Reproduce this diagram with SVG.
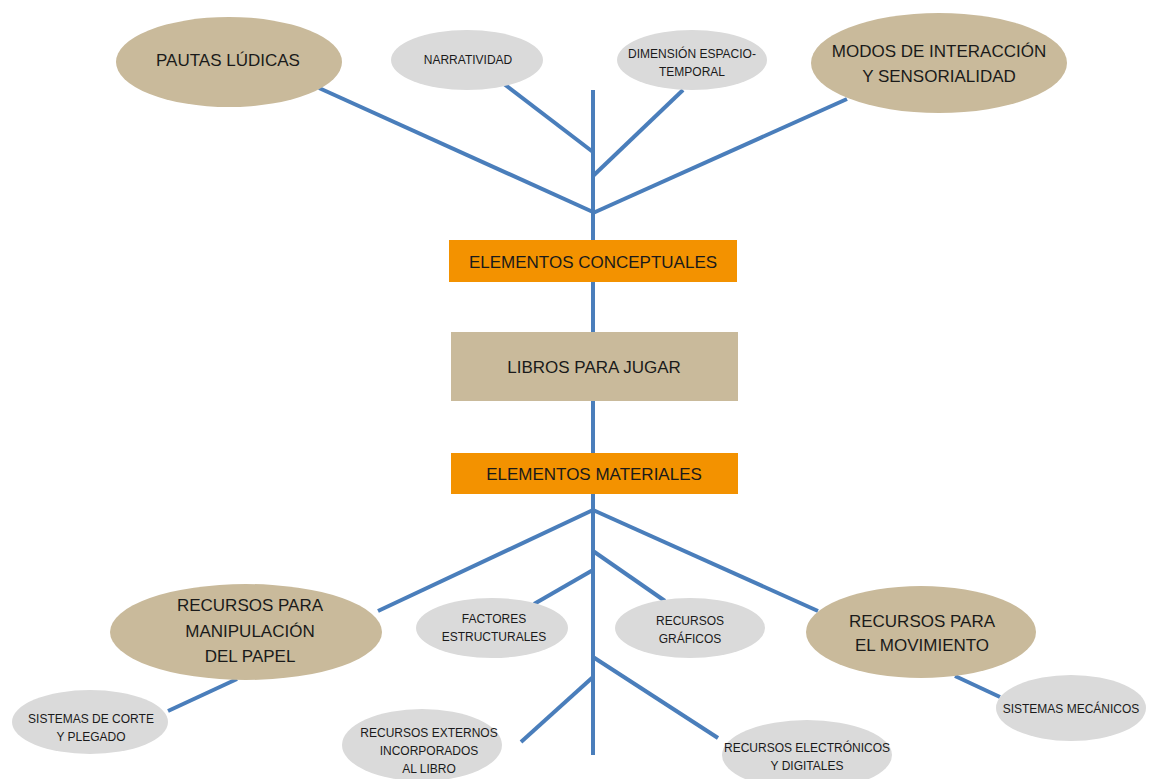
<svg xmlns="http://www.w3.org/2000/svg" width="1160" height="779" viewBox="0 0 1160 779">
<style>
.c{stroke:#4A7EBB;stroke-width:4;fill:none}
.big{fill:#C9BA9B}
.sm{fill:#DADADA}
.or{fill:#F39200}
text{font-family:"Liberation Sans",Arial,sans-serif;fill:#1a1a1a;text-anchor:middle}
.t1{font-size:17px}
.t2{font-size:12px}
</style>
<rect width="1160" height="779" fill="#fff"/>
<g id="connectors">
<line class="c" x1="593" y1="90" x2="593" y2="755"/>
<line class="c" x1="319" y1="88" x2="593" y2="212"/>
<line class="c" x1="504" y1="84" x2="593" y2="152"/>
<line class="c" x1="683" y1="90" x2="593" y2="176"/>
<line class="c" x1="847" y1="99" x2="593" y2="213"/>
<line class="c" x1="378" y1="611" x2="593" y2="510"/>
<line class="c" x1="237" y1="679" x2="168" y2="711"/>
<line class="c" x1="534" y1="604" x2="593" y2="570"/>
<line class="c" x1="593" y1="551" x2="665" y2="601"/>
<line class="c" x1="593" y1="510" x2="818" y2="611"/>
<line class="c" x1="955" y1="676" x2="1000" y2="697"/>
<line class="c" x1="593" y1="677" x2="521" y2="742"/>
<line class="c" x1="593" y1="657" x2="718" y2="738"/>
</g>
<g id="pautas"><ellipse class="big" cx="229" cy="62" rx="113" ry="45"/><text class="t1" x="228" y="66">PAUTAS LÚDICAS</text></g>
<g id="narratividad"><ellipse class="sm" cx="467" cy="60" rx="76" ry="30"/><text class="t2" x="468" y="64">NARRATIVIDAD</text></g>
<g id="dimension"><ellipse class="sm" cx="692" cy="60" rx="75" ry="30"/><text class="t2" x="692" y="58">DIMENSIÓN ESPACIO-</text><text class="t2" x="692" y="76">TEMPORAL</text></g>
<g id="modos"><ellipse class="big" cx="939" cy="63" rx="128" ry="50"/><text class="t1" x="939" y="57">MODOS DE INTERACCIÓN</text><text class="t1" x="939" y="82">Y SENSORIALIDAD</text></g>
<g id="conceptuales"><rect class="or" x="449" y="240" width="288" height="42"/><text class="t1" x="593" y="268">ELEMENTOS CONCEPTUALES</text></g>
<g id="libros"><rect class="big" x="451" y="332" width="287" height="69"/><text class="t1" x="594" y="373">LIBROS PARA JUGAR</text></g>
<g id="materiales"><rect class="or" x="451" y="453" width="287" height="41"/><text class="t1" x="594" y="480">ELEMENTOS MATERIALES</text></g>
<g id="manipulacion"><ellipse class="big" cx="246" cy="632" rx="136" ry="48"/><text class="t1" x="250" y="611">RECURSOS PARA</text><text class="t1" x="250" y="637">MANIPULACIÓN</text><text class="t1" x="250" y="662">DEL PAPEL</text></g>
<g id="corte"><ellipse class="sm" cx="90" cy="722" rx="78" ry="32"/><text class="t2" x="91" y="723">SISTEMAS DE CORTE</text><text class="t2" x="91" y="741">Y PLEGADO</text></g>
<g id="factores"><ellipse class="sm" cx="492" cy="628" rx="76" ry="30"/><text class="t2" x="494" y="623">FACTORES</text><text class="t2" x="494" y="641">ESTRUCTURALES</text></g>
<g id="graficos"><ellipse class="sm" cx="690" cy="628" rx="75" ry="30"/><text class="t2" x="690" y="625">RECURSOS</text><text class="t2" x="690" y="643">GRÁFICOS</text></g>
<g id="movimiento"><ellipse class="big" cx="921" cy="632" rx="115" ry="46"/><text class="t1" x="922" y="627">RECURSOS PARA</text><text class="t1" x="922" y="651">EL MOVIMIENTO</text></g>
<g id="mecanicos"><ellipse class="sm" cx="1071" cy="708" rx="75" ry="33"/><text class="t2" x="1071" y="713">SISTEMAS MECÁNICOS</text></g>
<g id="externos"><ellipse class="sm" cx="422" cy="745" rx="80" ry="36"/><text class="t2" x="429" y="737">RECURSOS EXTERNOS</text><text class="t2" x="429" y="755">INCORPORADOS</text><text class="t2" x="429" y="773">AL LIBRO</text></g>
<g id="electronicos"><ellipse class="sm" cx="807" cy="755" rx="85" ry="35"/><text class="t2" x="807" y="752">RECURSOS ELECTRÓNICOS</text><text class="t2" x="807" y="770">Y DIGITALES</text></g>
</svg>
